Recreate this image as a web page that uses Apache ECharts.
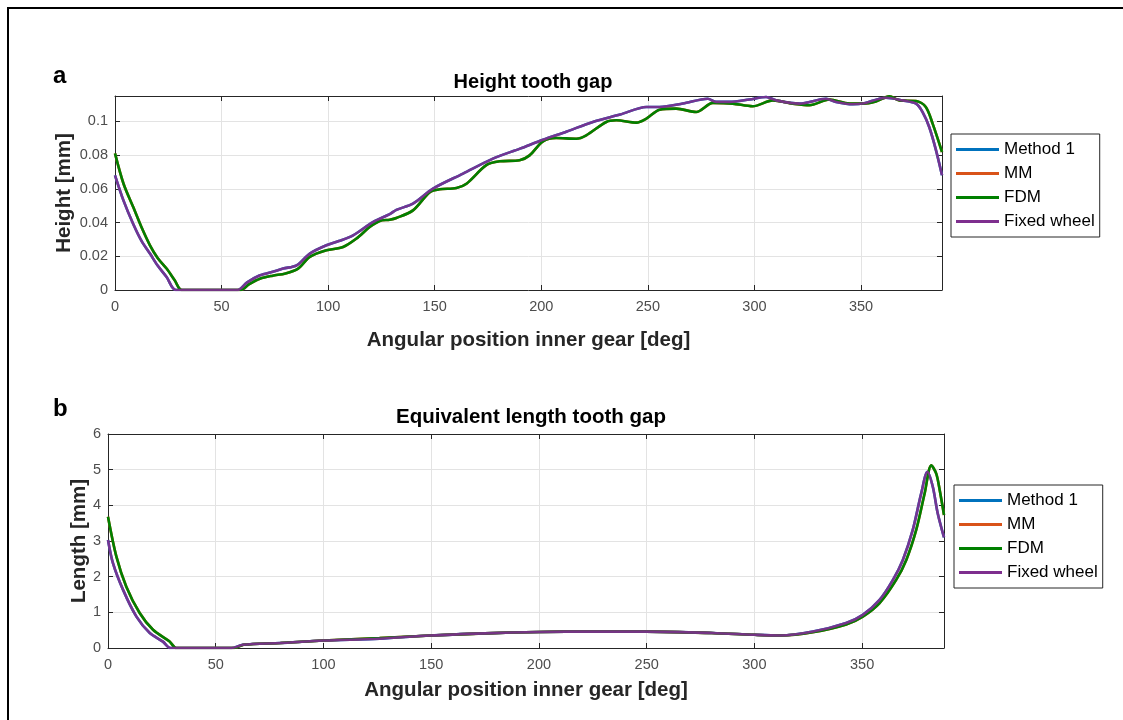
<!DOCTYPE html>
<html>
<head>
<meta charset="utf-8">
<script src="https://cdn.jsdelivr.net/npm/echarts@6/dist/echarts.min.js"></script>
<style>
html,body{margin:0;padding:0;background:#fff;}
#main{width:1123px;height:720px;}
</style>
</head>
<body>
<div id="main"></div>
<script>
// ---- Data ----
const seriesNames = ['Method 1', 'MM', 'FDM', 'Fixed wheel'];
const seriesColors = ['#0072BD', '#D95319', '#008000', '#7E2F8E'];

// (a) Height tooth gap
const heightFdmX = [0, 4, 8.6, 12.5, 16.4, 20, 24.2, 28, 31.3, 45, 59, 63, 68, 74, 80, 85.9, 91.4, 99.2, 107, 113.3, 119.5, 124.2, 128.9, 132, 139.8, 147.7, 152.3, 160.2, 164.9, 174.2, 180.5, 189.8, 194.5, 200.8, 207, 216.4, 221.1, 230.5, 235.2, 244.6, 249.3, 255.5, 263.3, 272.7, 280.5, 289.8, 299.2, 308.6, 318, 325.8, 335.2, 344.5, 350.8, 357, 363.3, 368, 375.8, 380.4, 383.6, 388];
const heightFdmY = [0.081, 0.063, 0.049, 0.037, 0.0265, 0.019, 0.0127, 0.0058, 0, 0, 0, 0.0035, 0.0067, 0.0085, 0.0098, 0.0127, 0.0196, 0.0235, 0.0255, 0.0305, 0.0373, 0.0409, 0.0417, 0.0427, 0.0472, 0.058, 0.0597, 0.0605, 0.063, 0.074, 0.0763, 0.0769, 0.0798, 0.0881, 0.0901, 0.0897, 0.0917, 0.0996, 0.1006, 0.0992, 0.1016, 0.1069, 0.1075, 0.1055, 0.1109, 0.1105, 0.1089, 0.1124, 0.1105, 0.1095, 0.1129, 0.1105, 0.1105, 0.1118, 0.1148, 0.1124, 0.112, 0.1085, 0.0986, 0.0818];
const heightFixedX = [0, 4, 8.6, 12.5, 16.4, 20, 24.2, 28.6, 45, 57.5, 62, 68, 74, 78.9, 85.2, 91.4, 99.2, 105, 111.7, 121, 128.9, 132, 139.8, 149.2, 163.3, 177.3, 190, 200.8, 212, 224.2, 237, 249.3, 255.5, 266.4, 278.1, 282, 288.3, 297.6, 305.5, 310.2, 321.1, 333.6, 338.3, 346.1, 350.8, 361.7, 369.5, 375.8, 378.9, 382, 385.2, 388];
const heightFixedY = [0.068, 0.053, 0.039, 0.029, 0.0216, 0.0145, 0.0077, 0, 0, 0, 0.0045, 0.0087, 0.0108, 0.0127, 0.0146, 0.0216, 0.0265, 0.029, 0.0324, 0.0403, 0.045, 0.0475, 0.0512, 0.0601, 0.069, 0.0779, 0.0838, 0.0891, 0.094, 0.0996, 0.104, 0.1085, 0.1085, 0.1105, 0.1134, 0.1115, 0.1115, 0.1129, 0.1144, 0.1124, 0.1105, 0.1134, 0.1115, 0.1101, 0.1105, 0.114, 0.1124, 0.1105, 0.1055, 0.0966, 0.0828, 0.068];

// (b) Equivalent length tooth gap
const lengthFdmX = [0, 3.9, 8.5, 14.7, 20.9, 28.6, 31.7, 45, 58.5, 63, 80, 100, 126, 150, 175, 200, 225, 250, 280, 300, 312, 327, 342.6, 350.3, 358.1, 365.8, 370.5, 375.1, 379, 382.1, 384.4, 386, 388];
const lengthFdmY = [3.68, 2.56, 1.72, 0.98, 0.51, 0.18, 0, 0, 0, 0.09, 0.14, 0.21, 0.28, 0.35, 0.41, 0.45, 0.46, 0.46, 0.42, 0.37, 0.35, 0.44, 0.66, 0.88, 1.26, 1.91, 2.47, 3.31, 4.33, 5.12, 4.89, 4.43, 3.73];
const lengthFixedX = [0, 2.3, 7, 13.2, 19.4, 25.5, 29, 45, 57.3, 62.6, 80, 100, 126, 149.3, 175, 200.3, 225, 249.8, 280.7, 300, 311.7, 327.2, 342.6, 350.3, 358.1, 364.3, 368.9, 373.5, 377.4, 380.3, 382.8, 385.1, 388];
const lengthFixedY = [3.03, 2.38, 1.63, 0.88, 0.42, 0.18, 0, 0, 0, 0.09, 0.14, 0.21, 0.26, 0.35, 0.41, 0.45, 0.46, 0.46, 0.42, 0.37, 0.35, 0.46, 0.70, 0.93, 1.35, 1.91, 2.47, 3.31, 4.33, 4.94, 4.52, 3.77, 3.10];

// Method 1 and MM coincide with the visible curves (hidden underneath)
const heightMethod1X = heightFixedX, heightMethod1Y = heightFixedY;
const heightMmX = heightFdmX, heightMmY = heightFdmY;
const lengthMethod1X = lengthFixedX, lengthMethod1Y = lengthFixedY;
const lengthMmX = lengthFdmX, lengthMmY = lengthFdmY;

const xTicksMax = 388;
const heightMax = 0.115;
const lengthMax = 6;

// ---- Chart ----
const zip = (xs, ys) => xs.map((x, i) => [x, ys[i]]);
const FONT = '"Liberation Sans", Arial, Helvetica, sans-serif';
const axisColor = '#262626';
const labelColor = '#4d4d4d';
const gridColor = '#e3e3e3';

function xAxisDef(gridIndex, pos, name, nameGap) {
  const main = pos === 'bottom';
  return {
    type: 'value', gridIndex, position: pos, min: 0, max: xTicksMax, interval: 50,
    name: main ? name : '', nameLocation: 'middle', nameGap: nameGap, nameMoveOverlap: false,
    nameTextStyle: {fontFamily: FONT, fontSize: 20.5, fontWeight: 'bold', color: axisColor},
    axisLine: {show: true, onZero: false, lineStyle: {color: axisColor, width: 1}},
    axisTick: {show: true, inside: true, length: 5, lineStyle: {color: axisColor}},
    axisLabel: {show: main, showMaxLabel: false, color: labelColor, fontFamily: FONT, fontSize: 14.5, margin: 9},
    splitLine: {show: main, lineStyle: {color: gridColor, width: 1}}
  };
}
function yAxisDef(gridIndex, pos, max, interval, name, nameGap) {
  const main = pos === 'left';
  return {
    type: 'value', gridIndex, position: pos, min: 0, max: max, interval: interval,
    name: main ? name : '', nameLocation: 'middle', nameGap: nameGap, nameMoveOverlap: false,
    nameTextStyle: {fontFamily: FONT, fontSize: 20.5, fontWeight: 'bold', color: axisColor},
    axisLine: {show: true, onZero: false, lineStyle: {color: axisColor, width: 1}},
    axisTick: {show: true, inside: true, length: 5, lineStyle: {color: axisColor}},
    axisLabel: {show: main, showMaxLabel: max % interval === 0, color: labelColor, fontFamily: FONT, fontSize: 14.5, margin: 7},
    splitLine: {show: main, lineStyle: {color: gridColor, width: 1}}
  };
}

const heightSets = [[heightMethod1X, heightMethod1Y], [heightMmX, heightMmY], [heightFdmX, heightFdmY], [heightFixedX, heightFixedY]];
const lengthSets = [[lengthMethod1X, lengthMethod1Y], [lengthMmX, lengthMmY], [lengthFdmX, lengthFdmY], [lengthFixedX, lengthFixedY]];

const series = [];
[heightSets, lengthSets].forEach((sets, g) => {
  sets.forEach((s, i) => {
    series.push({
      type: 'line', name: seriesNames[i], xAxisIndex: g * 2, yAxisIndex: g * 2,
      data: zip(s[0], s[1]), showSymbol: false, symbol: 'none',
      smooth: 0.3, clip: true,
      lineStyle: {color: seriesColors[i], width: 2.6, opacity: i === 3 ? 0.92 : 1},
      itemStyle: {color: seriesColors[i]}, z: 2 + i, animation: false
    });
  });
});

function legendDef(left, top) {
  return {
    orient: 'vertical', left: left, top: top, data: seriesNames,
    icon: 'rect', itemWidth: 43, itemHeight: 3, itemGap: 3,
    padding: [5, 5, 5, 5], backgroundColor: '#fff',
    borderColor: '#262626', borderWidth: 1, borderRadius: 0,
    textStyle: {fontFamily: FONT, fontSize: 17, color: '#000', lineHeight: 21},
    selectedMode: false
  };
}

const chart = echarts.init(document.getElementById('main'), null, {renderer: 'canvas'});
chart.setOption({
  animation: false,
  backgroundColor: '#fff',
  textStyle: {fontFamily: FONT},
  title: [
    {text: 'Height tooth gap', left: 528, top: 67, textAlign: 'center',
     textStyle: {fontFamily: FONT, fontSize: 20, fontWeight: 'bold', color: '#000'}},
    {text: 'Equivalent length tooth gap', left: 526, top: 402, textAlign: 'center',
     textStyle: {fontFamily: FONT, fontSize: 20.5, fontWeight: 'bold', color: '#000'}}
  ],
  grid: [
    {left: 115, top: 96, width: 827, height: 194, show: false},
    {left: 108, top: 434, width: 836, height: 214, show: false}
  ],
  xAxis: [
    xAxisDef(0, 'bottom', 'Angular position inner gear [deg]', 40),
    xAxisDef(0, 'top', '', 0),
    xAxisDef(1, 'bottom', 'Angular position inner gear [deg]', 32),
    xAxisDef(1, 'top', '', 0)
  ],
  yAxis: [
    yAxisDef(0, 'left', heightMax, 0.02, 'Height [mm]', 40),
    yAxisDef(0, 'right', heightMax, 0.02, '', 0),
    yAxisDef(1, 'left', lengthMax, 1, 'Length [mm]', 18),
    yAxisDef(1, 'right', lengthMax, 1, '', 0)
  ],
  legend: [legendDef(951, 134), legendDef(954, 485)],
  series: series,
  graphic: [
    {type: 'rect', shape: {x: 8, y: 8, width: 1200, height: 800}, style: {fill: null, stroke: '#000', lineWidth: 2}, z: 100, silent: true},
    {type: 'text', left: 53, top: 64, style: {text: 'a', fontFamily: FONT, fontSize: 24, fontWeight: 'bold', fill: '#000'}},
    {type: 'text', left: 53, top: 397, style: {text: 'b', fontFamily: FONT, fontSize: 24, fontWeight: 'bold', fill: '#000'}}
  ]
});
</script>
</body>
</html>
